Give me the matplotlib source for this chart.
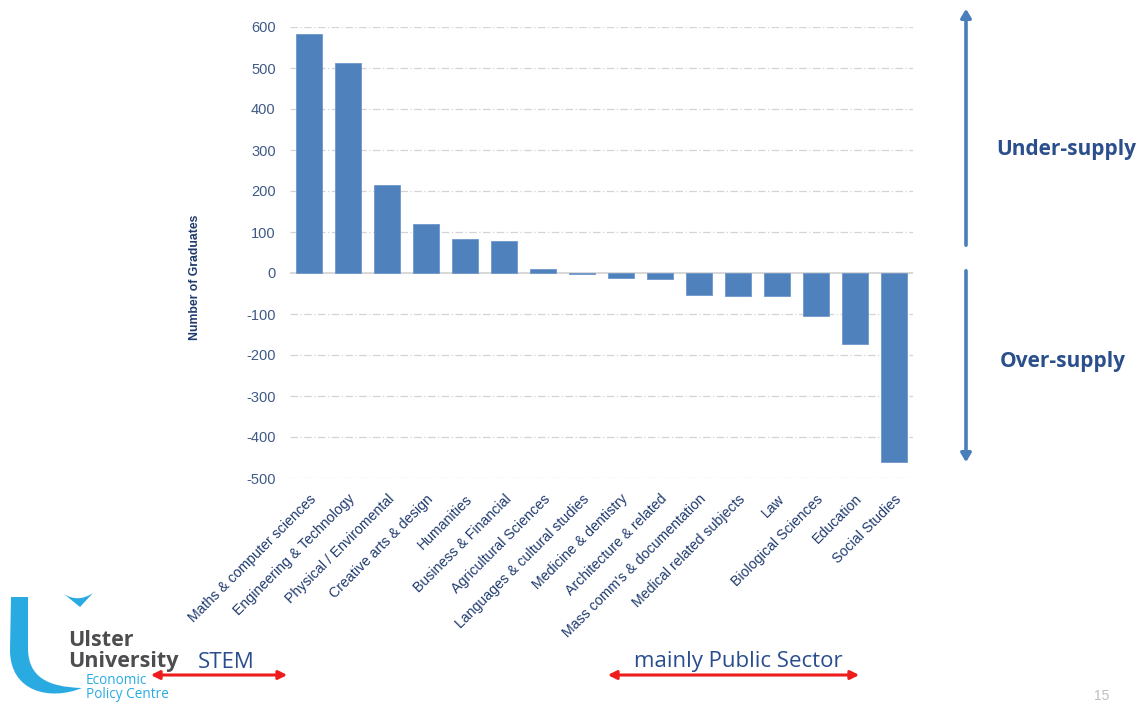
import numpy as np
import matplotlib
matplotlib.use("Agg")
import matplotlib.pyplot as plt
from matplotlib.path import Path
from matplotlib.patches import PathPatch, FancyArrowPatch

# graduate supply gap by subject area
subjects = [
    "Maths & computer sciences",
    "Engineering & Technology",
    "Physical / Enviromental",
    "Creative arts & design",
    "Humanities",
    "Business & Financial",
    "Agricultural Sciences",
    "Languages & cultural studies",
    "Medicine & dentistry",
    "Architecture & related",
    "Mass comm's & documentation",
    "Medical related subjects",
    "Law",
    "Biological Sciences",
    "Education",
    "Social Studies",
]
gap = [583, 512, 215, 120, 83, 79, 10, -3, -12, -15, -54, -56, -55, -104, -174, -462]
yticks = [600, 500, 400, 300, 200, 100, 0, -100, -200, -300, -400, -500]

W, H = 1142, 705
BAR = "#4f81bd"
TICK = "#3f5a86"
NAVY = "#1f3a6e"
plt.rcParams["font.family"] = ["Liberation Sans", "DejaVu Sans"]


def fx(x):
    return x / W


def fy(y):
    return 1 - y / H


fig = plt.figure(figsize=(W / 100, H / 100), dpi=100)
ax = fig.add_axes([fx(289.5), fy(478), fx(913.5) - fx(289.5), fy(27) - fy(478)])

x = np.arange(len(subjects))
ax.bar(x, gap, width=0.67, color=BAR, edgecolor="#6f97cc", linewidth=0.6, zorder=3)
ax.set_xlim(-0.5, len(subjects) - 0.5)
ax.set_ylim(-500, 600)
ax.set_yticks(yticks)
ax.set_yticklabels([str(v) for v in yticks], color=TICK, fontsize=10.5)
for v in yticks:
    if v == 0:
        ax.axhline(v, color="#d9d9d9", lw=1.5, zorder=2)
    else:
        ax.axhline(v, color="#d4d4d4", lw=0.9, ls=(0, (6, 2, 1, 2)), zorder=1)
ax.set_xticks(x)
ax.set_xticklabels(subjects, rotation=45, ha="right", va="top",
                   rotation_mode="anchor", color=NAVY, fontsize=10.2)
ax.tick_params(axis="both", length=0)
ax.tick_params(axis="y", pad=10)
ax.tick_params(axis="x", pad=10)
for s in ax.spines.values():
    s.set_visible(False)

fig.text(fx(195), fy(277), "Number of Graduates", rotation=90, ha="center",
         va="center", fontsize=8.8, fontweight="bold", color=NAVY)

# supply arrows on the right
blue = "#4a7ebb"
fig.add_artist(FancyArrowPatch(
    (fx(966), fy(248)), (fx(966), fy(6)), transform=fig.transFigure,
    arrowstyle="-|>,head_length=5,head_width=3", color=blue, lw=2.6))
fig.add_artist(FancyArrowPatch(
    (fx(966), fy(268)), (fx(966), fy(465)), transform=fig.transFigure,
    arrowstyle="-|>,head_length=5,head_width=3", color=blue, lw=2.6))
fig.text(fx(1066), fy(150), "Under-supply", ha="center", va="center",
         fontsize=15, fontweight="bold", color="#2b4f8c", family="Open Sans")
fig.text(fx(1063), fy(361), "Over-supply", ha="center", va="center",
         fontsize=15, fontweight="bold", color="#2b4f8c", family="Open Sans")

# sector brackets along the bottom
red = "#ee1c1c"
for x0, x1, label, lx in [(148, 290, "STEM", 226), (605, 862, "mainly Public Sector", 738)]:
    fig.add_artist(FancyArrowPatch(
        (fx(x0), fy(675)), (fx(x1), fy(675)), transform=fig.transFigure,
        arrowstyle="<|-|>,head_length=5,head_width=2.5", color=red, lw=2.2))
    fig.text(fx(lx), fy(662), label, ha="center", va="center", fontsize=16,
             color="#2a4d8f", family="Open Sans")

# university logo
cyan = "#29abe2"
pts = [(11, 597), (28, 597), (28, 650),
       (29, 676), (46, 687), (82, 688),
       (50, 701), (10, 692), (10, 650),
       (11, 597)]
codes = [Path.MOVETO, Path.LINETO, Path.LINETO,
         Path.CURVE4, Path.CURVE4, Path.CURVE4,
         Path.CURVE4, Path.CURVE4, Path.CURVE4,
         Path.CLOSEPOLY]
logo = Path([(fx(a), fy(b)) for a, b in pts], codes)
fig.add_artist(PathPatch(logo, transform=fig.transFigure, color=cyan, lw=0))
bird = Path([(fx(a), fy(b)) for a, b in
             [(64, 594), (78, 603), (93, 593), (80, 607), (64, 594)]],
            [Path.MOVETO, Path.CURVE3, Path.CURVE3, Path.LINETO, Path.CLOSEPOLY])
fig.add_artist(PathPatch(bird, transform=fig.transFigure, color=cyan, lw=0))
fig.text(fx(68), fy(640), "Ulster", ha="left", va="center", fontsize=15.5,
         fontweight="bold", color="#4d4d4f", family="Open Sans")
fig.text(fx(68), fy(661), "University", ha="left", va="center", fontsize=15.5,
         fontweight="bold", color="#4d4d4f", family="Open Sans")
fig.text(fx(86), fy(681), "Economic", ha="left", va="center", fontsize=9.8,
         color=cyan, family="Open Sans")
fig.text(fx(86), fy(695), "Policy Centre", ha="left", va="center", fontsize=9.8,
         color=cyan, family="Open Sans")

# slide number
fig.text(fx(1102), fy(703), "15", ha="center", va="bottom", fontsize=10,
         color="#bfbfbf")

fig.savefig("out.png", dpi=100)
